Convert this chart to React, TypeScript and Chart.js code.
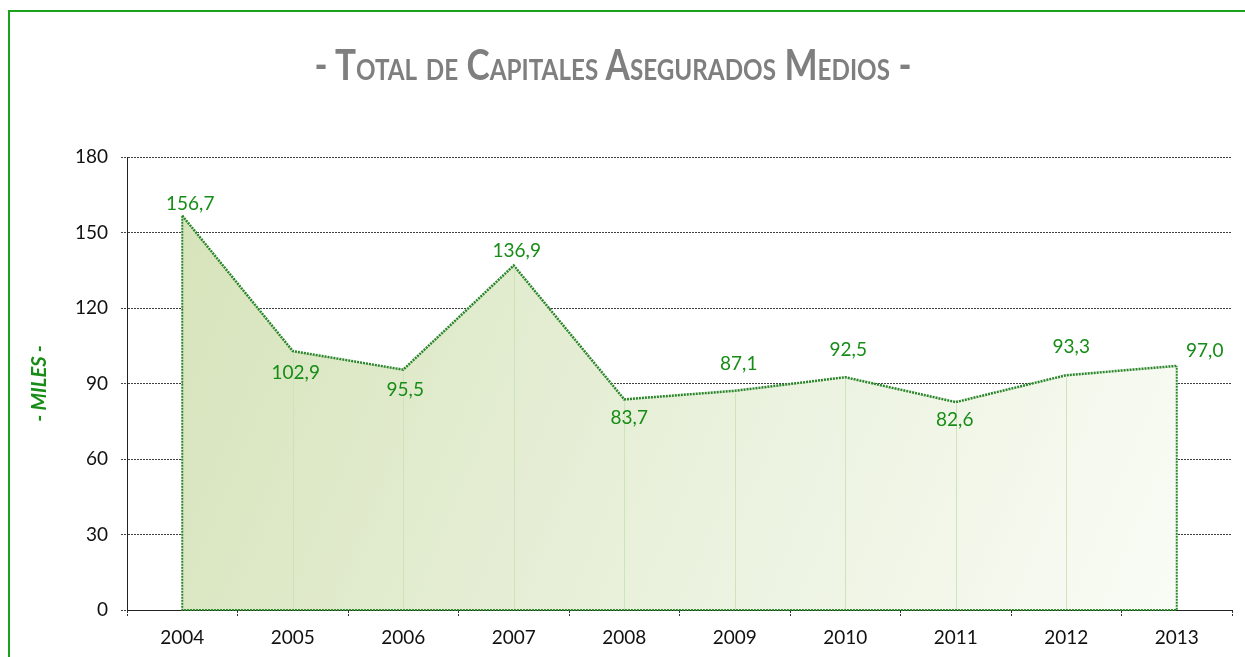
import React, { useEffect, useRef } from 'react';
import { Chart, registerables } from 'chart.js';

Chart.register(...registerables);

const years = ['2004', '2005', '2006', '2007', '2008', '2009', '2010', '2011', '2012', '2013'];
const capitales = [156.7, 102.9, 95.5, 136.9, 83.7, 87.1, 92.5, 82.6, 93.3, 97.0];
const yMin = 0;
const yMax = 180;
const yStep = 30;
const chartTitle = '- Total de Capitales Asegurados Medios -';
const yTitle = '- MILES -';

// label placement relative to each point (style only)
const labelShift: [number, number][] = [
  [8, -12], [3, 22], [2, 20], [3, -15], [5, 19],
  [4, -27], [3, -27], [-1, 18], [5, -28], [28, -15],
];

const FONT = 'Lato, "Open Sans", sans-serif';
const GREEN_TEXT = '#178d17';
const GREEN_LINE = '#2a862a';

const edgesPlugin = {
  id: 'areaEdges',
  afterDatasetsDraw(chart: any) {
    const meta = chart.getDatasetMeta(0);
    const pts = meta.data;
    if (!pts.length) return;
    const y0 = chart.scales.y.getPixelForValue(0);
    const ctx = chart.ctx;
    ctx.save();
    ctx.strokeStyle = 'rgba(205,226,185,0.95)';
    ctx.lineWidth = 1;
    for (let i = 1; i < pts.length - 1; i++) {
      ctx.beginPath();
      ctx.moveTo(Math.round(pts[i].x) + 0.5, y0);
      ctx.lineTo(Math.round(pts[i].x) + 0.5, pts[i].y + 2);
      ctx.stroke();
    }
    const first = pts[0];
    const last = pts[pts.length - 1];
    ctx.strokeStyle = GREEN_LINE;
    ctx.lineWidth = 2;
    ctx.setLineDash([2, 1]);
    ctx.beginPath();
    ctx.moveTo(first.x, first.y);
    ctx.lineTo(first.x, y0);
    ctx.lineTo(last.x, y0);
    ctx.lineTo(last.x, last.y);
    ctx.stroke();
    ctx.restore();
  },
};

const labelsPlugin = {
  id: 'valueLabels',
  afterDatasetsDraw(chart: any) {
    const meta = chart.getDatasetMeta(0);
    const ctx = chart.ctx;
    ctx.save();
    ctx.font = `19px ${FONT}`;
    ctx.fillStyle = GREEN_TEXT;
    ctx.textAlign = 'center';
    ctx.textBaseline = 'middle';
    meta.data.forEach((el: any, i: number) => {
      const v = capitales[i];
      const [dx, dy] = labelShift[i] || [0, -15];
      ctx.fillText(v.toFixed(1).replace('.', ','), el.x + dx, el.y + dy);
    });
    ctx.restore();
  },
};

export default function App() {
  const ref = useRef<HTMLCanvasElement>(null);

  useEffect(() => {
    if (!ref.current) return;
    const chart = new Chart(ref.current, {
      type: 'line',
      data: {
        labels: years,
        datasets: [
          {
            data: capitales,
            borderColor: GREEN_LINE,
            borderWidth: 2.5,
            borderDash: [2, 1],
            pointRadius: 0,
            tension: 0,
            fill: 'origin',
            backgroundColor: (c: any) => {
              const area = c.chart.chartArea;
              if (!area) return '#e2ecd0';
              const g = c.chart.ctx.createLinearGradient(area.left, area.top, area.right, area.bottom);
              g.addColorStop(0, '#d4e2b6');
              g.addColorStop(0.5, '#e8f0da');
              g.addColorStop(1, '#fbfdf8');
              return g;
            },
          },
        ],
      },
      options: {
        responsive: false,
        animation: false,
        devicePixelRatio: 1,
        layout: { padding: { top: 37, right: 13, left: 0, bottom: 0 } },
        plugins: {
          legend: { display: false },
          tooltip: { enabled: false },
          title: { display: false },
        },
        scales: {
          x: {
            type: 'category',
            offset: true,
            grid: {
              display: true,
              drawOnChartArea: false,
              drawTicks: true,
              tickLength: 6,
              offset: true,
              tickColor: '#333',
              tickBorderDash: [2, 1],
            },
            border: { display: true, color: '#222', dash: [2, 1], width: 1 },
            ticks: {
              color: '#111',
              font: { family: FONT, size: 19 },
              padding: 10,
              maxRotation: 0,
            },
            afterFit: (s: any) => {
              s.height = 47;
            },
          },
          y: {
            min: yMin,
            max: yMax,
            ticks: {
              stepSize: yStep,
              color: '#111',
              font: { family: FONT, size: 19 },
              padding: 13,
            },
            grid: {
              color: 'rgba(0,0,0,0.75)',
              lineWidth: 1,
              drawTicks: true,
              tickLength: 6,
              tickColor: 'rgba(0,0,0,0.75)',
              tickBorderDash: [2, 1],
            },
            border: { display: true, color: '#222', dash: [2, 1], width: 1 },
            title: {
              display: true,
              text: yTitle,
              color: GREEN_TEXT,
              font: { family: FONT, size: 20, weight: 'bold', style: 'italic' },
              padding: { top: 18, bottom: 0 },
            },
            afterFit: (s: any) => {
              s.width = 117;
            },
          },
        },
      },
      plugins: [edgesPlugin, labelsPlugin],
    });
    return () => chart.destroy();
  }, []);

  return (
    <div>
      <div
        style={{
          position: 'fixed',
          left: 8,
          top: 10,
          width: 1260,
          height: 700,
          border: '2px solid #1aa31a',
          boxSizing: 'border-box',
        }}
      />
      <div
        style={{
          position: 'fixed',
          left: 0,
          top: 36,
          width: 1226,
          textAlign: 'center',
          fontFamily: FONT,
          fontWeight: 'bold',
          fontVariant: 'small-caps',
          fontSize: 42,
          lineHeight: '56px',
          color: '#7f7f7f',
          whiteSpace: 'nowrap',
          transform: 'scaleX(0.835)',
          transformOrigin: '613px 0',
        }}
      >
        {chartTitle}
      </div>
      <canvas
        ref={ref}
        width={1235}
        height={537}
        style={{ position: 'fixed', left: 10, top: 120, width: 1235, height: 537 }}
      />
    </div>
  );
}
